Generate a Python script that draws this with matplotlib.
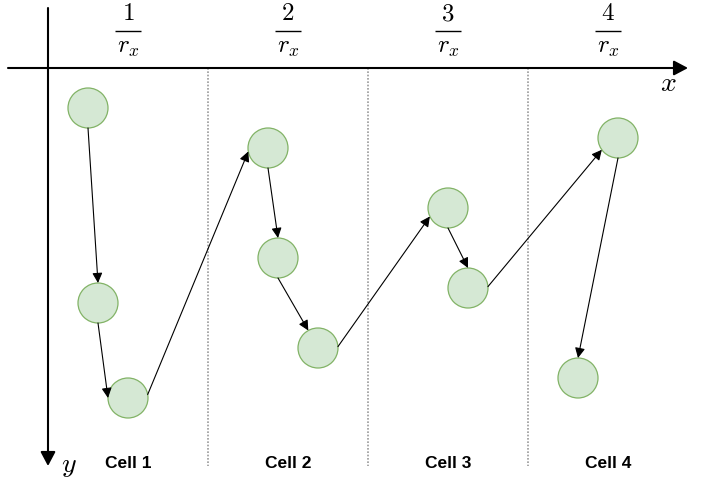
import matplotlib
matplotlib.use("Agg")
import matplotlib.pyplot as plt
from matplotlib.patches import Circle, FancyArrowPatch
import numpy as np

# ---- data ----
node_x = [40, 50, 80, 220, 230, 270, 400, 420, 570, 530]
node_y = [40, 235, 330, 80, 190, 280, 140, 220, 70, 310]
edge_src = [0, 1, 2, 3, 4, 5, 6, 7, 8]
edge_dst = [1, 2, 3, 4, 5, 6, 7, 8, 9]
cell_labels = ["Cell 1", "Cell 2", "Cell 3", "Cell 4"]
cell_numerators = ["1", "2", "3", "4"]
cell_width = 160

# ---- style ----
exit_angle = [90, 90, 350, 90, 90, 356, 90, 356, 90]
entry_angle = [270, 180, 170, 270, 241, 155, 270, 144, 270]
radius = 20

plt.rcParams['mathtext.fontset'] = 'cm'
fig = plt.figure(figsize=(7.01, 4.79), dpi=100)
ax = fig.add_axes([0, 0, 1, 1])
ax.set_xlim(-48, 653)
ax.set_ylim(411, -68)
ax.axis('off')

# axes arrows
ax.add_patch(FancyArrowPatch((-40, 0), (640, 0), arrowstyle='-|>,head_length=0.85,head_width=0.45',
                             mutation_scale=10, lw=1.5, color='black', shrinkA=0, shrinkB=0, zorder=3))
ax.add_patch(FancyArrowPatch((0, -60), (0, 398), arrowstyle='-|>,head_length=0.85,head_width=0.45',
                             mutation_scale=10, lw=1.5, color='black', shrinkA=0, shrinkB=0, zorder=3))
ax.text(620, 15, "$x$", fontsize=20, ha='center', va='center')
ax.text(21, 404, "$y$", fontsize=20, ha='center', va='baseline')

# cell separators
for k in range(1, len(cell_labels)):
    ax.plot([k * cell_width, k * cell_width], [0, 398], color='#999999', lw=1.2,
            linestyle=(0, (1, 1)), zorder=1)

# cell headers and labels
for k, (lab, num) in enumerate(zip(cell_labels, cell_numerators)):
    cx = k * cell_width + cell_width / 2
    ax.text(cx, -48, f"${num}$", fontsize=18, ha='center', va='baseline')
    ax.plot([cx - 13, cx + 13], [-37, -37], color='black', lw=1.0, solid_capstyle='butt')
    ax.text(cx, -15.5, r"$r_x$", fontsize=18, ha='center', va='baseline')
    ax.text(cx, 400, lab, fontsize=12.5, fontweight='bold', family='Liberation Sans',
            ha='center', va='baseline')

# nodes
for x, y in zip(node_x, node_y):
    ax.add_patch(Circle((x, y), radius, facecolor='#d5e8d4', edgecolor='#82b366', lw=0.9, zorder=4))

# edges
for s, d, a0, a1 in zip(edge_src, edge_dst, exit_angle, entry_angle):
    p0 = (node_x[s] + radius * np.cos(np.radians(a0)), node_y[s] + radius * np.sin(np.radians(a0)))
    p1 = (node_x[d] + radius * np.cos(np.radians(a1)), node_y[d] + radius * np.sin(np.radians(a1)))
    ax.add_patch(FancyArrowPatch(p0, p1, arrowstyle='-|>,head_length=0.6,head_width=0.3',
                                 mutation_scale=10, lw=0.8, color='black', shrinkA=0, shrinkB=0,
                                 zorder=5))

fig.savefig("out.png", dpi=100)
